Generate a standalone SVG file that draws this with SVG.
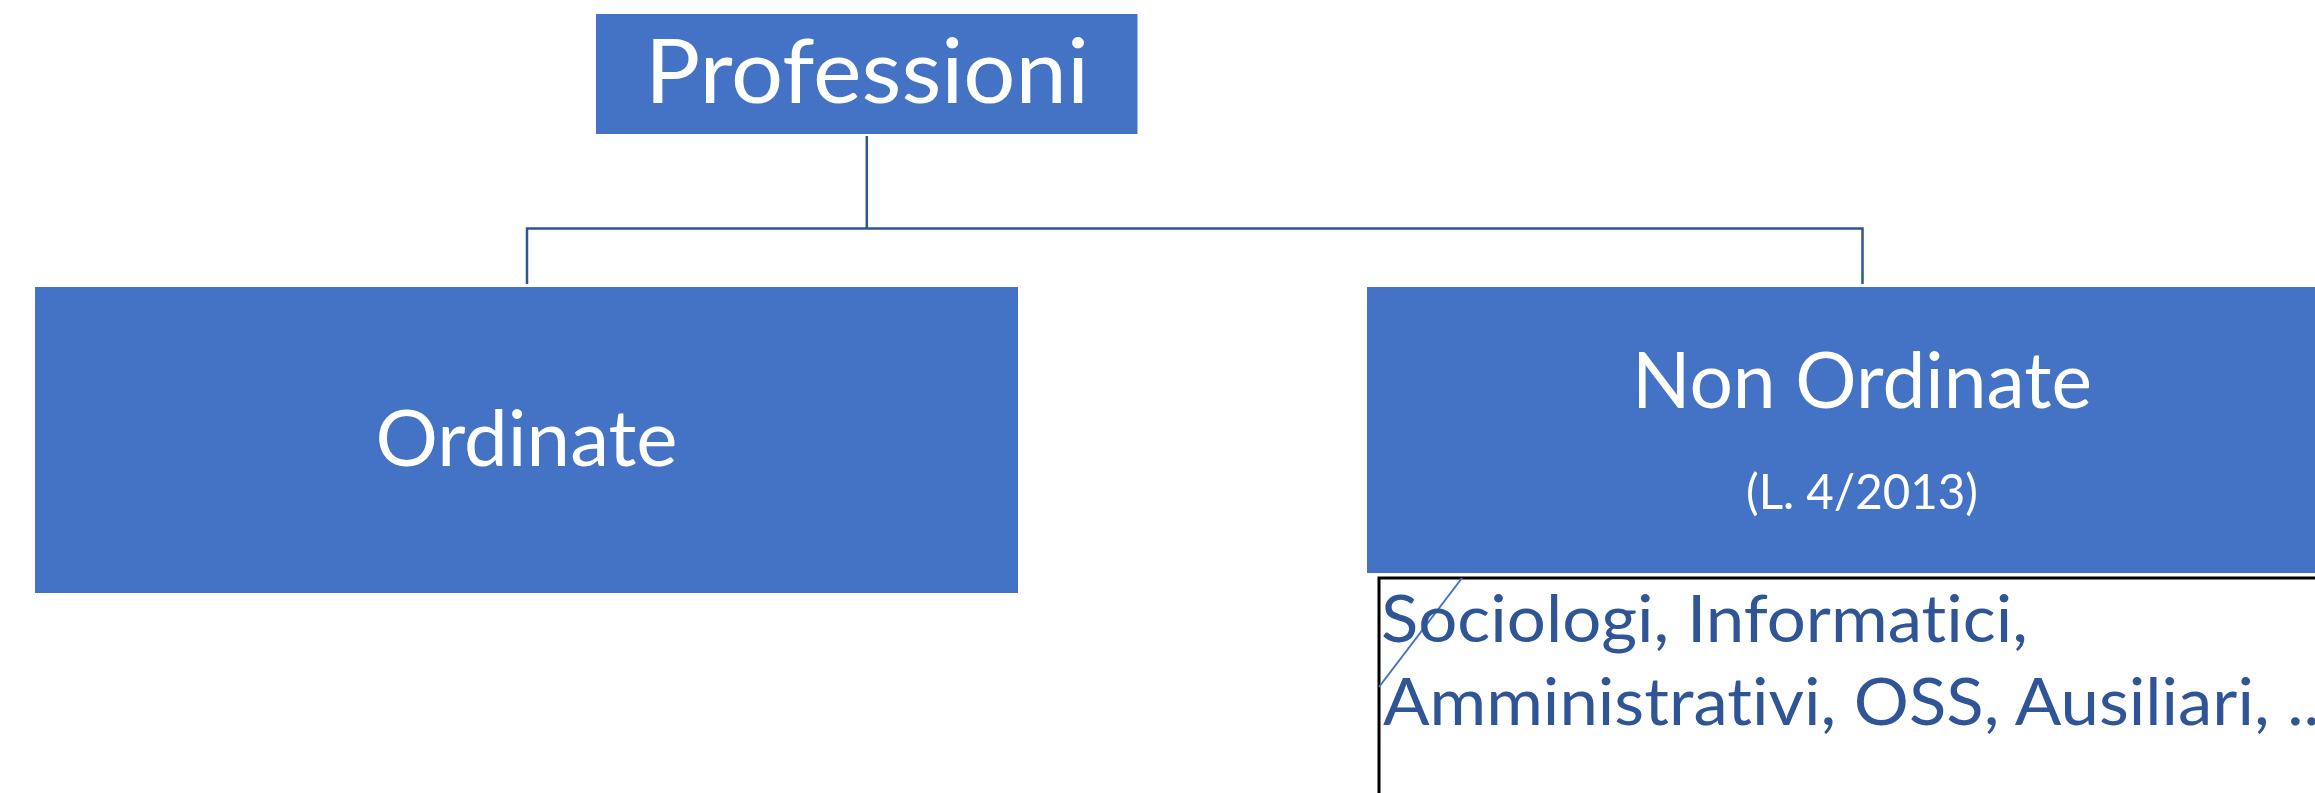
<svg xmlns="http://www.w3.org/2000/svg" width="2315" height="793" viewBox="0 0 2315 793">
<style>
text{font-variant-ligatures:none;font-feature-settings:"liga" 0,"clig" 0,"dlig" 0;}
.box{fill:#4472C4;}
.wt{fill:#FFFFFF;font-family:Lato,"Open Sans","Liberation Sans",sans-serif;text-anchor:middle;}
.conn{fill:none;stroke:#2F5597;stroke-width:2.5;}
.bt{fill:#2F5597;font-family:Lato,"Open Sans","Liberation Sans",sans-serif;font-size:66px;}
</style>
<rect x="0" y="0" width="2315" height="793" fill="#FFFFFF"/>
<g id="connectors">
<path class="conn" d="M866.8 136 V228.5 M527 284 V228.5 H1862.5 V284"/>
</g>
<g id="node-professioni">
<rect class="box" x="596" y="14" width="541.5" height="120"/>
<text class="wt" x="867" y="103.3" font-size="89" textLength="444" lengthAdjust="spacingAndGlyphs">Professioni</text>
</g>
<g id="node-ordinate">
<rect class="box" x="35" y="287" width="983" height="306"/>
<text class="wt" x="526.5" y="465.7" font-size="77" textLength="302" lengthAdjust="spacingAndGlyphs">Ordinate</text>
</g>
<g id="node-non-ordinate">
<rect class="box" x="1367" y="287" width="990" height="286"/>
<text class="wt" x="1862" y="408.3" font-size="77" textLength="460" lengthAdjust="spacingAndGlyphs">Non Ordinate</text>
<text class="wt" x="1862" y="509.3" font-size="49" textLength="232" lengthAdjust="spacingAndGlyphs">(L. 4/2013)</text>
</g>
<g id="node-examples">
<rect x="1379" y="578" width="1000" height="300" fill="none" stroke="#000000" stroke-width="3"/>
<line x1="1462" y1="578" x2="1379" y2="687" stroke="#4472C4" stroke-width="2"/>
<text class="bt" x="1381" y="641.7" textLength="647" lengthAdjust="spacingAndGlyphs">Sociologi, Informatici,</text>
<text class="bt" x="1383" y="725" textLength="953" lengthAdjust="spacingAndGlyphs">Amministrativi, OSS, Ausiliari, ...</text>
</g>
</svg>
